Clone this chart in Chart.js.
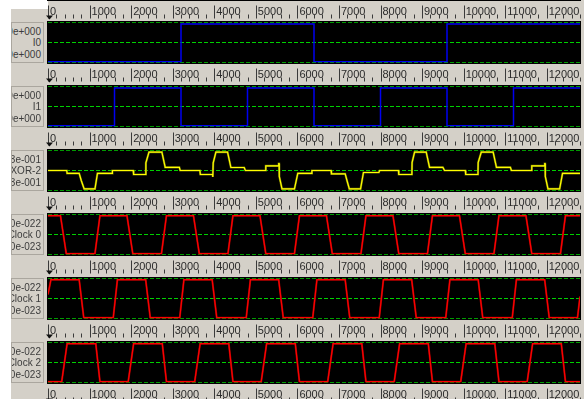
<!DOCTYPE html>
<html><head><meta charset="utf-8">
<script src="https://cdn.jsdelivr.net/npm/chart.js@4/dist/chart.umd.min.js"></script>
<style>
html,body{margin:0;padding:0;background:#fff;}
#wrap{position:relative;width:584px;height:399px;overflow:hidden;background:#fff;}
#gray{position:absolute;left:11px;top:0;width:573px;height:399px;background:#d4d0c8;}
#whiteTop{position:absolute;left:11px;top:0;width:37px;height:9px;background:#fff;}
canvas{position:absolute;left:0;}
.lbl{position:absolute;left:11px;width:33px;height:41px;border:1px solid #aaa69e;overflow:hidden;box-sizing:border-box;background:#d4d0c8;}
.lbl div{position:absolute;right:2px;white-space:nowrap;font:10px "Liberation Sans",Arial,sans-serif;color:#3c3c3c;line-height:12px;}
</style></head>
<body><div id="wrap"><div id="gray"></div><div id="whiteTop"></div></div>
<script>
// ---- data ----
const tickValues = [0,1000,2000,3000,4000,5000,6000,7000,8000,9000,10000,11000,12000];
const signalNames = ["I0","I1","XOR-2","Clock 0","Clock 1","Clock 2"];
const topLabels = ["1.0e+000","1.0e+000","2.3e-001","1.0e-022","1.0e-022","1.0e-022"];
const bottomLabels = ["0.0e+000","0.0e+000","-2.3e-001","-1.0e-023","-1.0e-023","-1.0e-023"];

const i0 = [[0,0.02],[3200,0.02],[3200,0.96],[6400,0.96],[6400,0.02],[9600,0.02],[9600,0.96],[12800,0.96]];
const i1 = [[0,0.02],[1600,0.02],[1600,0.96],[3200,0.96],[3200,0.02],[4800,0.02],[4800,0.96],[6400,0.96],
  [6400,0.02],[8000,0.02],[8000,0.96],[9600,0.96],[9600,0.02],[11200,0.02],[11200,0.96],[12800,0.96]];
const xor2 = [
 [0,0],[450,0],[460,-0.14],[750,-0.14],[800,-0.5],[870,-0.92],[1130,-0.92],[1190,-0.14],[1545,-0.14],[1550,0],
 [2050,0],[2060,-0.2],[2350,-0.2],[2355,0.38],[2430,0.92],[2740,0.92],[2820,0.16],[3160,0.16],[3180,0],
 [3655,0],[3665,-0.2],[3960,-0.2],[3965,-0.32],[3975,0.38],[4040,0.92],[4320,0.92],[4400,0.15],[4720,0.15],[4750,0],
 [5230,0],[5240,0.23],[5550,0.23],[5552,0.34],[5560,0.34],[5565,-0.3],[5630,-0.92],[5930,-0.92],[6010,-0.14],[6330,-0.14],[6350,0],
 [6810,0],[6820,-0.17],[7150,-0.17],[7200,-0.55],[7250,-0.92],[7520,-0.92],[7590,-0.1],[7960,-0.1],[7980,0],
 [8430,0],[8440,-0.2],[8755,-0.2],[8760,0.4],[8820,0.92],[9100,0.92],[9180,0.16],[9500,0.16],[9540,0],
 [10040,0],[10050,-0.2],[10345,-0.2],[10350,0.4],[10425,0.92],[10710,0.92],[10790,0.16],[11125,0.16],[11150,0],
 [11630,0],[11640,0.23],[11950,0.23],[11952,0.34],[11960,0.34],[11965,-0.3],[12030,-0.92],[12310,-0.92],[12380,-0.14],[12800,-0.14]];
const clock0 = [[0,0.97],[300,0.97],[440,0.02],[1130,0.02],[1250,0.97],[1900,0.97],[2040,0.02],[2730,0.02],[2850,0.97],
 [3500,0.97],[3640,0.02],[4330,0.02],[4450,0.97],[5100,0.97],[5240,0.02],[5930,0.02],[6050,0.97],[6700,0.97],[6840,0.02],
 [7530,0.02],[7650,0.97],[8300,0.97],[8440,0.02],[9130,0.02],[9250,0.97],[9900,0.97],[10040,0.02],[10730,0.02],[10850,0.97],
 [11500,0.97],[11640,0.02],[12330,0.02],[12450,0.97],[12800,0.97]];
const clock1 = [[0,0.6],[70,0.97],[750,0.97],[860,0.02],[1570,0.02],[1670,0.97],[2350,0.97],[2460,0.02],[3170,0.02],[3270,0.97],
 [3950,0.97],[4060,0.02],[4770,0.02],[4870,0.97],[5550,0.97],[5660,0.02],[6370,0.02],[6470,0.97],[7150,0.97],[7260,0.02],
 [7970,0.02],[8070,0.97],[8750,0.97],[8860,0.02],[9570,0.02],[9670,0.97],[10350,0.97],[10460,0.02],[11170,0.02],[11270,0.97],
 [11950,0.97],[12060,0.02],[12740,0.02],[12800,0.55]];
const clock2 = [[0,0.02],[330,0.02],[460,0.97],[1150,0.97],[1250,0.02],[1930,0.02],[2060,0.97],[2750,0.97],[2850,0.02],
 [3530,0.02],[3660,0.97],[4350,0.97],[4450,0.02],[5130,0.02],[5260,0.97],[5950,0.97],[6050,0.02],[6730,0.02],[6860,0.97],
 [7550,0.97],[7650,0.02],[8330,0.02],[8460,0.97],[9150,0.97],[9250,0.02],[9930,0.02],[10060,0.97],[10750,0.97],[10850,0.02],
 [11530,0.02],[11660,0.97],[12350,0.97],[12450,0.02],[12800,0.02]];

// ---- rendering ----
const FONT = '"Liberation Sans", Arial, sans-serif';
const wrap = document.getElementById('wrap');
const toXY = arr => arr.map(p => ({x:p[0], y:p[1]}));

const panelPlugin = {
  id:'panel',
  beforeDraw(chart){
    const a = chart.chartArea, c = chart.ctx;
    c.save();
    c.fillStyle = '#000';
    c.fillRect(a.left-1, a.top-1.5, a.right-a.left+2, a.bottom-a.top+3);
    c.restore();
  },
  afterDraw(chart){
    const s = chart.scales.x, a = chart.chartArea, c = chart.ctx;
    const B = a.bottom;
    c.save();
    c.strokeStyle = '#3a3a3a';
    c.lineWidth = 1;
    for (let v = s.min; v <= s.max; v += 200) {
      const px = Math.round(s.getPixelForValue(v)) + 0.5;
      c.beginPath();
      if (v % 1000 === 0) { c.moveTo(px, B+6); c.lineTo(px, B+19); }
      else { c.moveTo(px, B+15); c.lineTo(px, B+19); }
      c.stroke();
    }
    const p0 = Math.round(s.getPixelForValue(0));
    c.fillStyle = '#111';
    c.beginPath(); c.moveTo(p0-2, B+16); c.lineTo(p0+5, B+16); c.lineTo(p0+1.5, B+20); c.closePath(); c.fill();
    c.restore();
  }
};

function makePanel(top, datasets, yMin, yMax, stepY){
  const cv = document.createElement('canvas');
  cv.width = 584; cv.height = 64;
  cv.style.top = top + 'px'; cv.style.width='584px'; cv.style.height='64px';
  wrap.appendChild(cv);
  const mid = (yMin + yMax) / 2;
  return new Chart(cv.getContext('2d'), {
    type:'line',
    data:{datasets},
    options:{
      responsive:false, animation:false, events:[],
      layout:{padding:{left:48, right:4, top:1.5, bottom:0}},
      plugins:{legend:{display:false}, tooltip:{enabled:false}},
      elements:{point:{radius:0}, line:{tension:0}},
      scales:{
        x:{type:'linear', min:0, max:12800, position:'bottom',
           afterFit(s){ s.height = 22.5; },
           afterBuildTicks(s){ s.ticks = tickValues.map(v => ({value:v})); },
           grid:{display:false, drawTicks:false},
           border:{display:false},
           ticks:{align:'start', labelOffset:2, padding:6, autoSkip:false, maxRotation:0,
                  color:'#2a2a2a', font:{family:FONT, size:11}, callback:v => String(v)}},
        y:{type:'linear', min:yMin, max:yMax,
           afterFit(s){ s.width = 0; },
           ticks:{display:false, stepSize:stepY},
           grid:{drawTicks:false, lineWidth:1,
                 color:ctx => (ctx.tick && Math.abs(ctx.tick.value - mid) < 1e-9) ? '#00d000' : '#009a00'},
           border:{display:false, dash:[4,2]}}
      }
    },
    plugins:[panelPlugin]
  });
}

function line(arr, color, w){ return {data:toXY(arr), borderColor:color, borderWidth:w, fill:false, pointRadius:0}; }

const tops = [21,85,149,213,277,341];
// ruler above the first panel (panel itself scrolled out of view)
makePanel(-42, [], 0, 1, 0.5);
makePanel(tops[0], [line(i0,'#0000f0',1.5)], 0, 1, 0.5);
makePanel(tops[1], [line(i1,'#0000f0',1.5)], 0, 1, 0.5);
// first dataset is drawn on top in Chart.js
makePanel(tops[2], [line(xor2,'#ffff00',1.2), line(xor2,'#6a6a00',2.2)], -1, 1, 1);
makePanel(tops[3], [line(clock0,'#ff0000',1.2), line(clock0,'#8c0000',2)], 0, 1, 0.5);
makePanel(tops[4], [line(clock1,'#ff0000',1.2), line(clock1,'#8c0000',2)], 0, 1, 0.5);
makePanel(tops[5], [line(clock2,'#ff0000',1.2), line(clock2,'#8c0000',2)], 0, 1, 0.5);

// label boxes
tops.forEach((t, i) => {
  const b = document.createElement('div');
  b.className = 'lbl';
  b.style.top = (t+1) + 'px';
  const lines = [topLabels[i], signalNames[i], bottomLabels[i]];
  lines.forEach((txt, j) => {
    const d = document.createElement('div');
    d.textContent = txt;
    d.style.top = (3 + j*11.3) + 'px';
    b.appendChild(d);
  });
  wrap.appendChild(b);
});
</script></body></html>
